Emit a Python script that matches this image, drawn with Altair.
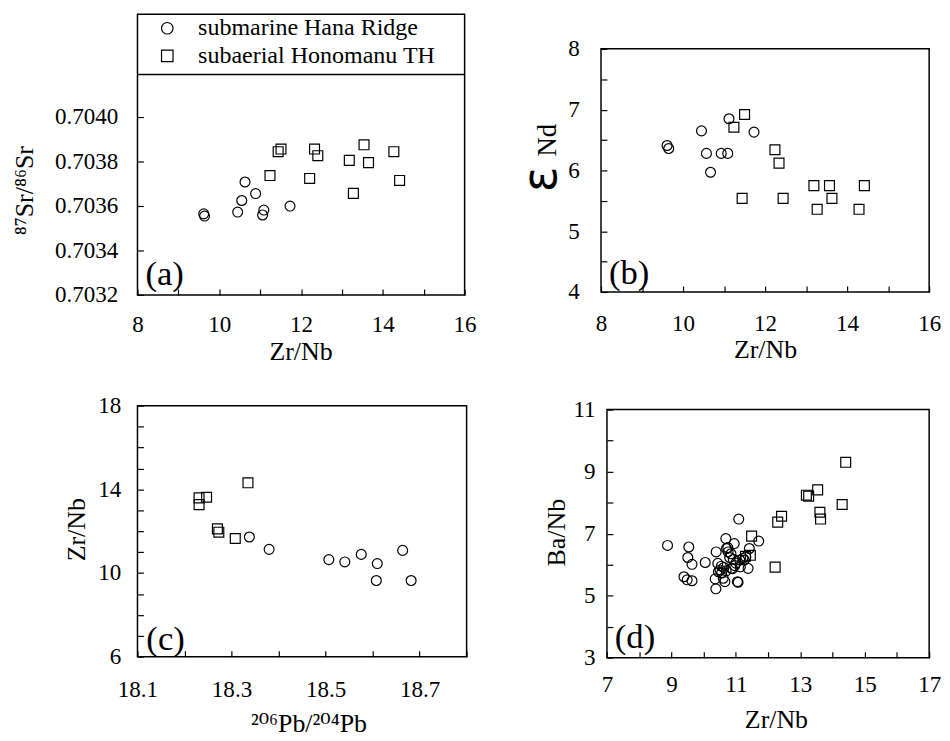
import altair as alt
import pandas as pd

FONT = "Liberation Serif, DejaVu Serif"
HANA = "submarine Hana Ridge"
HONO = "subaerial Honomanu TH"

# ---------------- data ----------------
# (a) Zr/Nb vs 87Sr/86Sr
a_hana_x = [9.62, 9.64, 10.45, 10.55, 10.63, 10.89, 11.09, 11.06, 11.73]
a_hana_y = [0.703564, 0.703554, 0.703572, 0.703624, 0.703707, 0.703655, 0.703581, 0.703559, 0.703599]
a_hono_x = [11.24, 11.44, 11.51, 12.21, 12.33, 12.41, 13.18, 13.28, 13.54, 13.65, 14.27, 14.41]
a_hono_y = [0.703736, 0.703843, 0.703855, 0.703723, 0.703855, 0.703825, 0.703804, 0.703656,
            0.703874, 0.703794, 0.703843, 0.703714]

# (b) Zr/Nb vs eps Nd
b_hana_x = [9.61, 9.65, 10.45, 10.57, 10.67, 10.93, 11.09, 11.12, 11.73]
b_hana_y = [6.41, 6.36, 6.65, 6.28, 5.97, 6.28, 6.28, 6.85, 6.63]
b_hono_x = [11.24, 11.50, 11.44, 12.24, 12.34, 12.44, 13.19, 13.27, 13.57, 13.63, 14.29, 14.42]
b_hono_y = [6.71, 6.92, 5.54, 6.34, 6.12, 5.54, 5.75, 5.36, 5.75, 5.54, 5.36, 5.75]

# (c) 206Pb/204Pb vs Zr/Nb
c_hana_x = [18.338, 18.380, 18.507, 18.541, 18.576, 18.610, 18.608, 18.664, 18.682]
c_hana_y = [11.72, 11.13, 10.64, 10.53, 10.89, 10.45, 9.64, 11.08, 9.64]
c_hono_x = [18.231, 18.231, 18.247, 18.270, 18.273, 18.308, 18.335]
c_hono_y = [13.59, 13.27, 13.62, 12.11, 11.95, 11.65, 14.31]

# (d) Zr/Nb vs Ba/Nb
d_hana_x = [8.88, 9.54, 9.51, 9.64, 9.39, 9.49, 9.64, 10.05, 10.39, 10.36,
            10.38, 10.44, 10.51, 10.56, 10.63, 10.69, 10.71, 10.76, 10.81, 10.66,
            10.61, 10.95, 10.92, 10.90, 10.97, 11.09, 11.05, 11.07, 11.14, 11.22,
            11.26, 11.38, 11.42, 11.71, 11.31, 10.75, 10.55, 10.85, 11.00, 10.70,
            10.46, 10.86, 11.12]
d_hana_y = [6.62, 6.57, 6.23, 6.01, 5.61, 5.51, 5.48, 6.07, 6.41, 5.54,
            5.22, 6.04, 5.83, 5.73, 5.91, 6.84, 6.52, 6.41, 6.23, 5.45,
            5.56, 6.68, 6.17, 5.87, 5.97, 7.47, 5.45, 5.43, 5.93, 6.20,
            6.15, 5.88, 6.52, 6.76, 6.25, 6.55, 5.95, 6.35, 6.05, 5.80,
            5.77, 5.88, 6.15]
d_hono_x = [14.41, 13.54, 13.19, 13.26, 14.30, 13.61, 13.63, 12.42, 12.30, 11.49, 12.22, 11.45, 11.30]
d_hono_y = [9.30, 8.41, 8.24, 8.21, 7.94, 7.69, 7.47, 7.56, 7.37, 6.92, 5.92, 6.30, 6.27]

# tick values
a_xticks = [8, 9, 10, 11, 12, 13, 14, 15, 16]
a_yticks = [0.7032, 0.7034, 0.7036, 0.7038, 0.7040]
b_yticks = [4, 4.5, 5, 5.5, 6, 6.5, 7, 7.5, 8]
c_xticks = [18.1, 18.2, 18.3, 18.4, 18.5, 18.6, 18.7, 18.8]
c_yticks = [6, 7, 8, 9, 10, 11, 12, 13, 14, 15, 16, 17, 18]
d_xticks = [7, 8, 9, 10, 11, 12, 13, 14, 15, 16, 17]
d_yticks = [3, 4, 5, 6, 7, 8, 9, 10, 11]


def frame(hx, hy, ox, oy):
    return pd.DataFrame({
        "x": hx + ox,
        "y": hy + oy,
        "group": [HANA] * len(hx) + [HONO] * len(ox),
    })


def axis(values, title, pad, tx, ty, expr=None, fmt=None, tsize=None):
    kw = dict(values=values, title=title, labelPadding=pad, titleX=tx, titleY=ty)
    if expr:
        kw["labelExpr"] = expr
    if fmt:
        kw["format"] = fmt
    if tsize:
        kw["titleFontSize"] = tsize
    return alt.Axis(**kw)


SHAPE_SCALE = alt.Scale(domain=[HANA, HONO], range=["circle", "square"])


def points(df, w, h, xdom, ydom, xax, yax, legend=None):
    return alt.Chart(df).mark_point(filled=False, color="black", strokeWidth=1.2, size=100, opacity=1).encode(
        x=alt.X("x:Q", scale=alt.Scale(domain=xdom, nice=False, zero=False), axis=xax),
        y=alt.Y("y:Q", scale=alt.Scale(domain=ydom, nice=False, zero=False), axis=yax),
        shape=alt.Shape("group:N", scale=SHAPE_SCALE, legend=legend),
    ).properties(width=w, height=h)


def tag(label, h, dx=8, dy=21):
    return alt.Chart(pd.DataFrame({"t": [label]})).mark_text(
        align="left", baseline="middle", font=FONT, fontSize=35, color="black"
    ).encode(text="t:N", x=alt.value(dx), y=alt.value(h - dy))


def spacer(h):
    return alt.Chart(pd.DataFrame({"k": [0]})).mark_point(
        opacity=0, size=0, strokeWidth=0
    ).encode(
        x=alt.value(0), y=alt.value(0)
    ).properties(width=1, height=h, view=alt.ViewBackground(stroke="transparent", strokeWidth=0))


# ---------------- panel (a) ----------------
WA, HA = 331, 284
legend_a = alt.Legend(
    orient="none", legendX=18, legendY=2, title=None, labelFont=FONT, labelFontSize=24.3,
    labelColor="black", labelLimit=400, symbolSize=135, symbolStrokeColor="black",
    symbolStrokeWidth=1.2, symbolFillColor="transparent", labelOffset=19, rowPadding=3, padding=0,
)
pa = points(
    frame(a_hana_x, a_hana_y, a_hono_x, a_hono_y), WA, HA, [8, 16], [0.7032, 0.70446],
    axis(a_xticks, "Zr/Nb", 19, 165, 63, expr="datum.value % 2 == 0 ? datum.label : ''"),
    axis(a_yticks, "⁸⁷Sr/⁸⁶Sr", 20, -120, 178, fmt=".4f"),
    legend=legend_a,
)
rule_a = alt.Chart(pd.DataFrame({"k": [0]})).mark_rule(color="black", strokeWidth=1.5).encode(
    x=alt.value(0), x2=alt.value(WA), y=alt.value(61)
)
chart_a = alt.layer(pa, rule_a, tag("(a)", HA))

# ---------------- panel (b) ----------------
WB, HB = 332, 246
pb = points(
    frame(b_hana_x, b_hana_y, b_hono_x, b_hono_y), WB, HB, [8, 16], [4, 8],
    axis(a_xticks, "Zr/Nb", 21, 166, 64, expr="datum.value % 2 == 0 ? datum.label : ''"),
    axis(b_yticks, "Nd", 22, -60, 92, expr="datum.value % 1 == 0 ? datum.label : ''",
         fmt=".0f", tsize=27),
)
eps = alt.Chart(pd.DataFrame({"t": ["ε"]})).mark_text(
    angle=270, font="DejaVu Sans", fontSize=48, color="black", align="center", baseline="middle"
).encode(text="t:N", x=alt.value(-60), y=alt.value(132))
chart_b = alt.layer(pb, eps, tag("(b)", HB, dy=19))

# ---------------- panel (c) ----------------
WC, HC = 333, 254
pc = points(
    frame(c_hana_x, c_hana_y, c_hono_x, c_hono_y), WC, HC, [18.1, 18.8], [6, 18],
    axis(c_xticks, "²⁰⁶Pb/²⁰⁴Pb", 22, 173, 74,
         expr="round(datum.value * 10) % 2 == 1 ? datum.label : ''", fmt=".1f"),
    axis(c_yticks, "Zr/Nb", 17, -68, 125, expr="(datum.value - 6) % 4 == 0 ? datum.label : ''"),
)
chart_c = alt.layer(pc, tag("(c)", HC, dx=9, dy=18))

# ---------------- panel (d) ----------------
WD, HD = 326, 251
pd_ = points(
    frame(d_hana_x, d_hana_y, d_hono_x, d_hono_y), WD, HD, [7, 17], [3, 11],
    axis(d_xticks, "Zr/Nb", 16, 171, 69, expr="datum.value % 2 == 1 ? datum.label : ''"),
    axis(d_yticks, "Ba/Nb", 12, -57, 124, expr="datum.value % 2 == 1 ? datum.label : ''"),
)
chart_d = alt.layer(pd_, tag("(d)", HD))

row1 = alt.hconcat(
    chart_a, alt.vconcat(spacer(22), chart_b, spacing=0), spacing=40
).resolve_scale(shape="independent")
row2 = alt.hconcat(
    alt.vconcat(spacer(1), chart_c, spacing=0), alt.vconcat(spacer(5), chart_d, spacing=0), spacing=75
).resolve_scale(shape="independent")

chart = alt.vconcat(row1, row2, spacing=27).resolve_scale(shape="independent").properties(
    padding={"left": 3, "top": 1, "right": 0, "bottom": 0},
    background="white",
).configure_view(
    stroke="black", strokeWidth=1.5
).configure_axis(
    labelFont=FONT, labelFontSize=23.3, labelColor="black",
    titleFont=FONT, titleFontSize=26.2, titleFontWeight="normal", titleColor="black",
    titleAlign="center", titleBaseline="middle",
    tickColor="black", tickSize=6, tickWidth=1.2, offset=-6,
    domain=False, grid=False, labelFlush=False, labelOverlap=False, labelBound=False,
)

chart.save("out.html", embed_options={"renderer": "svg", "actions": False})
